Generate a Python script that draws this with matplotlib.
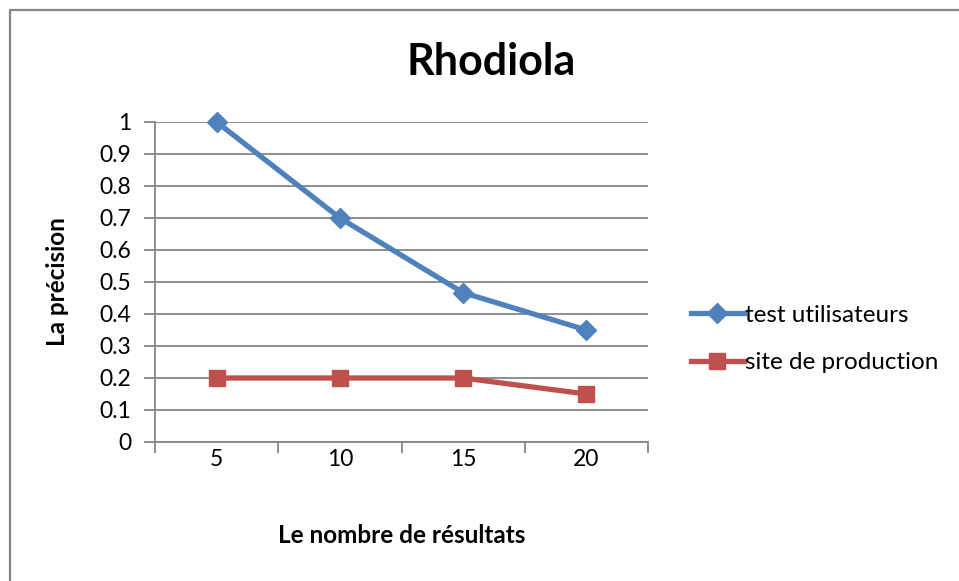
import matplotlib

matplotlib.use("Agg")

import matplotlib.pyplot as plt
import matplotlib.patches as patches

categories = ["5", "10", "15", "20"]
test_utilisateurs = [1.0, 0.7, 0.4667, 0.35]
site_production = [0.2, 0.2, 0.2, 0.15]
y_ticks = [0, 0.1, 0.2, 0.3, 0.4, 0.5, 0.6, 0.7, 0.8, 0.9, 1]
y_tick_labels = ["0", "0.1", "0.2", "0.3", "0.4", "0.5", "0.6", "0.7", "0.8", "0.9", "1"]

BLUE = "#4F81BD"
RED = "#C0504D"
GRID = "#868686"

plt.rcParams["font.family"] = ["Lato", "DejaVu Sans"]

W, H = 959, 581
fig = plt.figure(figsize=(W / 100, H / 100), dpi=100)
fig.patch.set_facecolor("white")

# chart frame, cut off at the right and bottom edges
frame = patches.Rectangle(
    (10 / W, -0.05), 1.1, 1 - 10 / H + 0.05,
    transform=fig.transFigure, fill=False, edgecolor=GRID, linewidth=1.6,
)
fig.patches.append(frame)

ax = fig.add_axes([155 / W, 1 - 442 / H, (648 - 155) / W, (442 - 122) / H])
x = range(len(categories))

ax.plot(x, test_utilisateurs, color=BLUE, linewidth=3.8, marker="D",
        markersize=10.5, label="test utilisateurs", clip_on=False)
ax.plot(x, site_production, color=RED, linewidth=3.8, marker="s",
        markersize=11.5, label="site de production", clip_on=False)

ax.set_xlim(-0.5, len(categories) - 0.5)
ax.set_ylim(0, 1)
ax.set_yticks(y_ticks)
ax.set_yticklabels(y_tick_labels)
ax.set_xticks(list(x))
ax.set_xticklabels(categories)
ax.set_xticks([i - 0.5 for i in range(len(categories) + 1)], minor=True)

ax.grid(axis="y", color=GRID, linewidth=1.3)
ax.set_axisbelow(True)
for side in ["top", "right"]:
    ax.spines[side].set_visible(False)
for side in ["left", "bottom"]:
    ax.spines[side].set_color(GRID)
    ax.spines[side].set_linewidth(1.3)

ax.tick_params(axis="y", length=8, width=1.3, color=GRID, pad=9, labelsize=16.5)
ax.tick_params(axis="x", which="major", length=0, pad=5, labelsize=16.5)
ax.tick_params(axis="x", which="minor", length=8, width=1.3, color=GRID)

ax.set_xlabel("Le nombre de résultats", fontsize=17.5, fontweight="bold", labelpad=39)
ax.set_ylabel("La précision", fontsize=17.5, fontweight="bold", labelpad=22)
fig.text(491 / W, 1 - 62 / H, "Rhodiola", ha="center", va="center",
         fontsize=31, fontweight="bold")

fig.legend(loc="center left", bbox_to_anchor=(681 / W, 1 - 339 / H),
           frameon=False, fontsize=17.5, handlelength=2.2, handletextpad=0.05,
           labelspacing=1.1, borderaxespad=0)

fig.savefig("out.png", dpi=100)
